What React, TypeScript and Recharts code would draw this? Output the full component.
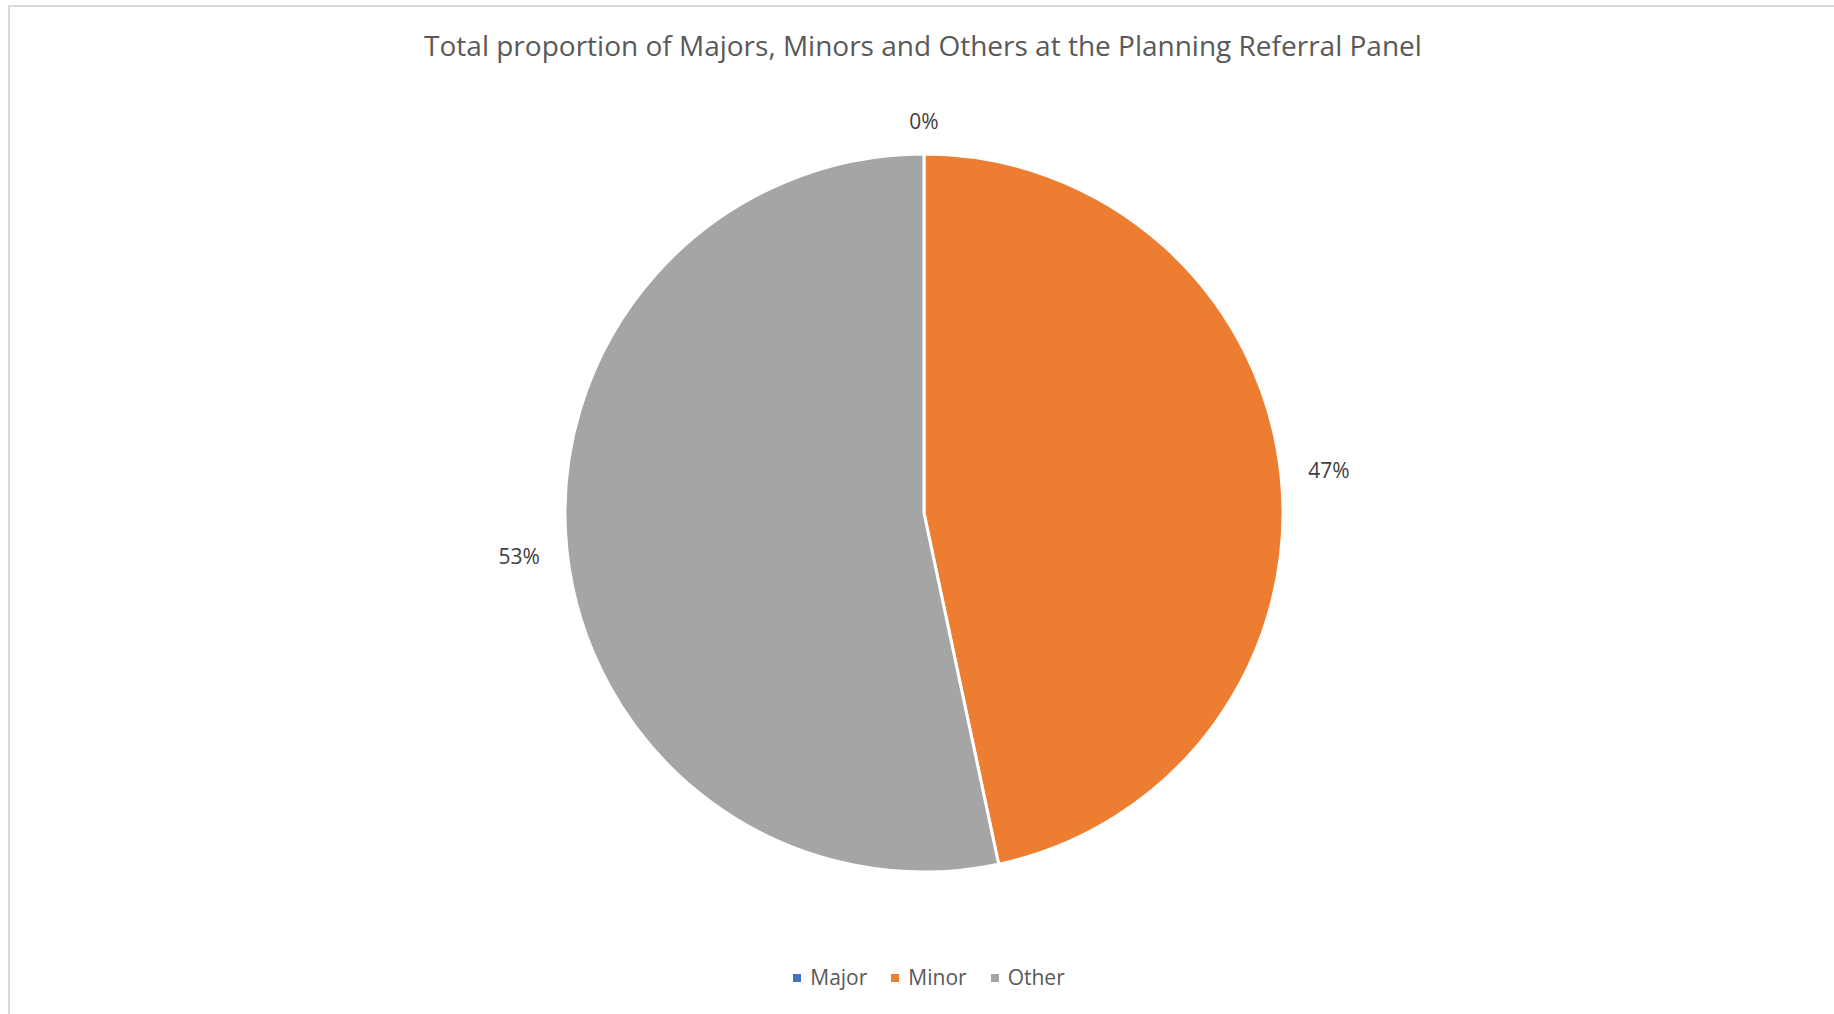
import { PieChart, Pie, Cell, Legend } from "recharts"

const categories = ["Major", "Minor", "Other"]
const values = [0, 7, 8]
const colors = ["#4472C4", "#ED7D31", "#A5A5A5"]

const title = "Total proportion of Majors, Minors and Others at the Planning Referral Panel"

const data = categories.map((name, i) => ({ name, value: values[i] }))

const FONT = "'Open Sans', sans-serif"
const RAD = Math.PI / 180

const renderLabel = (props: any) => {
  const { cx, cy, midAngle, outerRadius, percent } = props
  const c = Math.cos(-midAngle * RAD)
  const s = Math.sin(-midAngle * RAD)
  const dist = outerRadius + 31 + Math.abs(c) * 17 + Math.abs(s) * 2
  return (
    <text
      x={cx + dist * c}
      y={cy + dist * s}
      textAnchor="middle"
      dominantBaseline="central"
      fill="#404040"
      fontSize={21}
      fontFamily={FONT}
    >
      {`${Math.round(percent * 100)}%`}
    </text>
  )
}

const renderLegend = () => (
  <div
    style={{
      display: "flex",
      justifyContent: "center",
      gap: 24,
      fontFamily: FONT,
      fontSize: 21,
      lineHeight: "21px",
      color: "#595959",
      paddingLeft: 14,
    }}
  >
    {categories.map((c, i) => (
      <div key={c} style={{ display: "flex", alignItems: "center" }}>
        <span style={{ width: 8, height: 8, background: colors[i], display: "inline-block", marginRight: 9 }} />
        {c}
      </div>
    ))}
  </div>
)

const App = () => {
  return (
    <div
      style={{
        position: "absolute",
        left: 8,
        top: 5,
        width: 1826,
        height: 1009,
        borderTop: "2px solid #d9d9d9",
        borderLeft: "2px solid #d9d9d9",
        background: "#fff",
        overflow: "hidden",
      }}
    >
      <div
        style={{
          position: "absolute",
          left: 0,
          width: 1826,
          top: 24,
          textAlign: "center",
          fontFamily: FONT,
          fontSize: 28,
          lineHeight: "28px",
          color: "#595959",
        }}
      >
        {title}
      </div>
      <PieChart width={1824} height={1007}>
        <Pie
          data={data}
          dataKey="value"
          nameKey="name"
          cx={909}
          cy={501}
          outerRadius={359}
          startAngle={90}
          endAngle={-270}
          stroke="#fff"
          strokeWidth={3}
          label={renderLabel}
          labelLine={false}
          isAnimationActive={false}
        >
          {data.map((d, i) => (
            <Cell key={d.name} fill={colors[i]} />
          ))}
        </Pie>
        <Legend
          content={renderLegend}
          wrapperStyle={{ position: "absolute", left: 0, width: 1824, top: 960 }}
        />
      </PieChart>
    </div>
  )
}

export default App
